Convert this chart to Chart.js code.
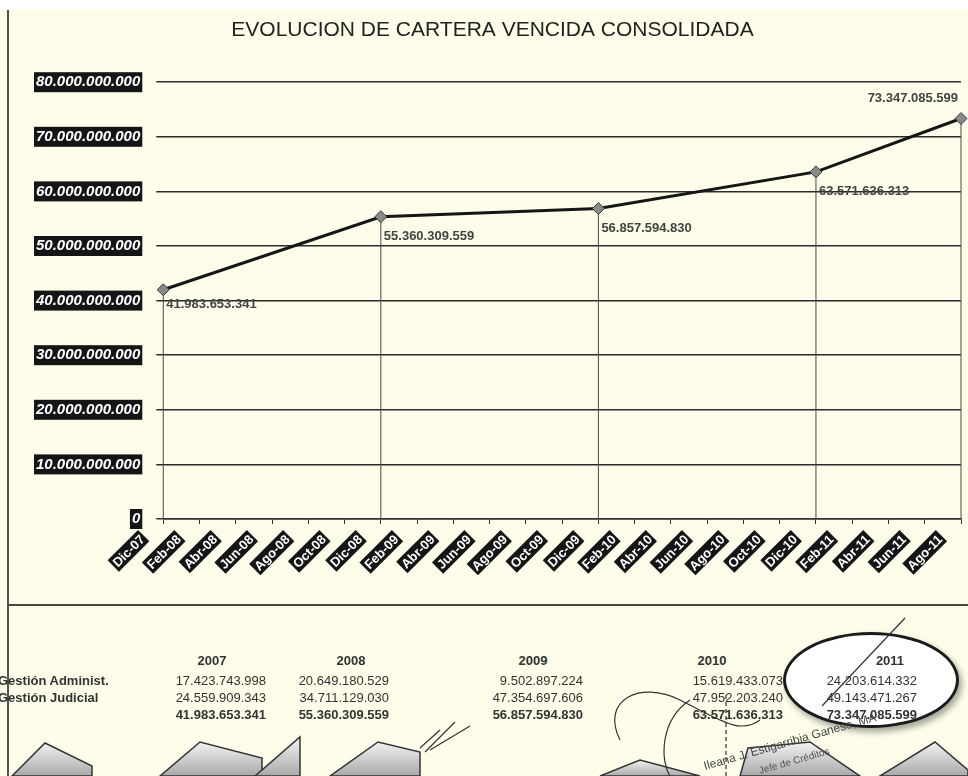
<!DOCTYPE html>
<html>
<head>
<meta charset="utf-8">
<script src="https://cdn.jsdelivr.net/npm/chart.js@4.4.1/dist/chart.umd.min.js"></script>
<style>
  body { margin: 0; background: #fff; }
  #hoja { position: relative; width: 968px; height: 776px; background: #fdfde9; overflow: hidden;
          font-family: "Liberation Sans", Arial, sans-serif; }
  #franja { position: absolute; left: 0; top: 0; width: 968px; height: 10px; background: #fff; }
  #borde { position: absolute; left: 7px; top: 10px; bottom: 0; width: 2px; background: #555; }
  #linea { position: absolute; left: 8px; right: 0; top: 604px; height: 2px; background: #444; }
  #grafico { position: absolute; left: 0; top: 0; }
  .txt { position: absolute; font-size: 13px; color: #333; white-space: nowrap; line-height: 17.5px; }
  .anio { font-weight: bold; text-align: center; width: 60px; }
  .col { text-align: right; width: 92px; }
  .b { font-weight: bold; }
  #ovalo { position: absolute; left: 783px; top: 632px; width: 170px; height: 90px; border: 3px solid #1c1c1c;
           border-radius: 50%; background: #fff; box-shadow: 3px 4px 6px rgba(0,0,0,0.35); }
  #deco { position: absolute; left: 0; top: 0; }
</style>
</head>
<body>
<div id="hoja">
  <div id="franja"></div>
  <canvas id="grafico" width="968" height="600"></canvas>
  <div id="borde"></div>
  <div id="linea"></div>
  <div id="ovalo"></div>
  <div id="tabla"></div>
  <svg id="deco" width="968" height="776">
    <defs>
      <linearGradient id="gris" x1="0" y1="0" x2="0" y2="1">
        <stop offset="0" stop-color="#f2f2f2"/>
        <stop offset="1" stop-color="#a9a9a9"/>
      </linearGradient>
    </defs>
    <g fill="url(#gris)" stroke="#333" stroke-width="1.5">
      <polygon points="12,776 45,743 92,766 92,776"/>
      <polygon points="160,776 200,742 262,758 262,776"/>
      <polygon points="255,776 300,737 300,776"/>
      <polygon points="330,776 378,742 420,752 420,776"/>
      <polygon points="600,776 640,760 700,776"/>
      <polygon points="740,776 748,748 810,742 860,776"/>
      <polygon points="880,776 935,742 968,770 968,776"/>
    </g>
    <g fill="none" stroke="#333" stroke-width="1.2">
      <line x1="822" y1="706" x2="905" y2="618"/>
      <path d="M420 748 L440 730 M425 752 L455 722 M430 750 L470 726"/>
      <path d="M620 740 C600 700, 640 680, 680 700 S 740 735, 760 720"/>
      <path d="M690 700 C660 720, 660 760, 670 776"/>
      <line x1="726" y1="695" x2="726" y2="776" stroke-dasharray="4 3"/>
    </g>
    <text x="705" y="770" font-size="12" fill="#444" font-family="Liberation Sans, Arial" transform="rotate(-16 705 770)">Ileana J. Estigarribia Ganese, MA</text>
    <text x="760" y="774" font-size="10" fill="#555" font-family="Liberation Sans, Arial" transform="rotate(-16 760 774)">Jefe de Créditos</text>
  </svg>
</div>
<script>
// datos
const meses = ["Dic-07", "Feb-08", "Abr-08", "Jun-08", "Ago-08", "Oct-08", "Dic-08", "Feb-09", "Abr-09",
  "Jun-09", "Ago-09", "Oct-09", "Dic-09", "Feb-10", "Abr-10", "Jun-10", "Ago-10", "Oct-10", "Dic-10",
  "Feb-11", "Abr-11", "Jun-11", "Ago-11"];
const carteraVencida = [41983653341, null, null, null, null, null, 55360309559, null, null, null, null, null,
  56857594830, null, null, null, null, null, 63571636313, null, null, null, 73347085599];
const ejeMax = 80000000000;
const ejePaso = 10000000000;

// tabla inferior
const anios = ["2007", "2008", "2009", "2010", "2011"];
const gestionAdminist = [17423743998, 20649180529, 9502897224, 15619433073, 24203614332];
const gestionJudicial = [24559909343, 34711129030, 47354697606, 47952203240, 49143471267];
const totalAnual = [41983653341, 55360309559, 56857594830, 63571636313, 73347085599];

const fuente = "'Liberation Sans', Arial, sans-serif";

function puntos(n) {
  return String(n).replace(/\B(?=(\d{3})+(?!\d))/g, ".");
}

// lineas verticales desde cada punto hasta el eje
const lineasCaida = {
  id: "lineasCaida",
  beforeDatasetsDraw(chart) {
    const ctx = chart.ctx;
    const meta = chart.getDatasetMeta(0);
    ctx.save();
    ctx.strokeStyle = "#4a4a4a";
    ctx.lineWidth = 1;
    meta.data.forEach((pt, i) => {
      if (carteraVencida[i] == null) return;
      ctx.beginPath();
      ctx.moveTo(pt.x, pt.y);
      ctx.lineTo(pt.x, chart.chartArea.bottom);
      ctx.stroke();
    });
    ctx.restore();
  }
};

// etiquetas de valor junto a cada punto
const etiquetas = {
  id: "etiquetas",
  afterDatasetsDraw(chart) {
    const ctx = chart.ctx;
    const meta = chart.getDatasetMeta(0);
    ctx.save();
    ctx.font = "bold 13px " + fuente;
    ctx.fillStyle = "#444";
    ctx.textBaseline = "middle";
    meta.data.forEach((pt, i) => {
      const v = carteraVencida[i];
      if (v == null) return;
      if (i === carteraVencida.length - 1) {
        ctx.textAlign = "right";
        ctx.fillText(puntos(v), pt.x - 3, pt.y - 20);
      } else {
        ctx.textAlign = "left";
        ctx.fillText(puntos(v), pt.x + 3, pt.y + (i === 0 ? 15 : 20));
      }
    });
    ctx.restore();
  }
};

// meses inclinados, blanco sobre negro (como en el original)
const mesesEje = {
  id: "mesesEje",
  afterDraw(chart) {
    const ctx = chart.ctx;
    const x = chart.scales.x;
    const base = chart.chartArea.bottom + 18;
    ctx.save();
    ctx.font = "bold 13px " + fuente;
    ctx.textAlign = "right";
    ctx.textBaseline = "middle";
    meses.forEach((m, i) => {
      const px = x.getPixelForValue(i) - 21;
      const w = ctx.measureText(m).width;
      ctx.save();
      ctx.translate(px, base);
      ctx.rotate(-Math.PI / 4);
      ctx.fillStyle = "#151515";
      ctx.fillRect(-w - 2, -8, w + 4, 16);
      ctx.fillStyle = "#fff";
      ctx.fillText(m, 0, 1);
      ctx.restore();
    });
    ctx.restore();
  }
};

new Chart(document.getElementById("grafico"), {
  type: "line",
  data: {
    labels: meses,
    datasets: [{
      data: carteraVencida,
      spanGaps: true,
      borderColor: "#161616",
      borderWidth: 3,
      tension: 0,
      pointStyle: "rectRot",
      pointRadius: 6,
      pointBackgroundColor: "#8a8a8a",
      pointBorderColor: "#3a3a3a",
      pointBorderWidth: 1
    }]
  },
  options: {
    responsive: false,
    animation: false,
    layout: { padding: { left: 20, right: 3, top: 0, bottom: 76 } },
    plugins: {
      legend: { display: false },
      tooltip: { enabled: false },
      title: {
        display: true,
        text: "EVOLUCION DE CARTERA VENCIDA CONSOLIDADA",
        color: "#222",
        font: { family: fuente, size: 21, weight: "normal" },
        padding: { top: 18, bottom: 39 }
      }
    },
    scales: {
      x: {
        offset: false,
        grid: { drawOnChartArea: false, tickLength: 5, color: "#333" },
        border: { display: true, color: "#333", width: 1.5 },
        ticks: { display: false, autoSkip: false }
      },
      y: {
        min: 0,
        max: ejeMax,
        grid: { color: "#2a2a2a", lineWidth: 1.5, tickLength: 7 },
        border: { display: false },
        ticks: {
          stepSize: ejePaso,
          padding: 16,
          color: "#fff",
          font: { family: fuente, size: 15, weight: "bold", style: "italic" },
          showLabelBackdrop: true,
          backdropColor: "#151515",
          backdropPadding: { x: 2, y: 1 },
          callback: v => v === 0 ? "0" : puntos(v)
        }
      }
    }
  },
  plugins: [lineasCaida, etiquetas, mesesEje]
});

// tabla de resumen por año
const centrosAnio = [212, 351, 533, 712, 890];
const derechaCol = [266, 389, 583, 783, 917];
let html = "";
html += '<div class="txt b" style="left:-2px;top:672px">Gestión Administ.</div>';
html += '<div class="txt b" style="left:-2px;top:689px">Gestión Judicial</div>';
anios.forEach((a, i) => {
  html += '<div class="txt anio" style="left:' + (centrosAnio[i] - 30) + 'px;top:652px">' + a + '</div>';
  const l = derechaCol[i] - 92;
  html += '<div class="txt col" style="left:' + l + 'px;top:672px">' + puntos(gestionAdminist[i]) + '</div>';
  html += '<div class="txt col" style="left:' + l + 'px;top:689px">' + puntos(gestionJudicial[i]) + '</div>';
  html += '<div class="txt col b" style="left:' + l + 'px;top:706px">' + puntos(totalAnual[i]) + '</div>';
});
document.getElementById("tabla").innerHTML = html;
</script>
</body>
</html>
